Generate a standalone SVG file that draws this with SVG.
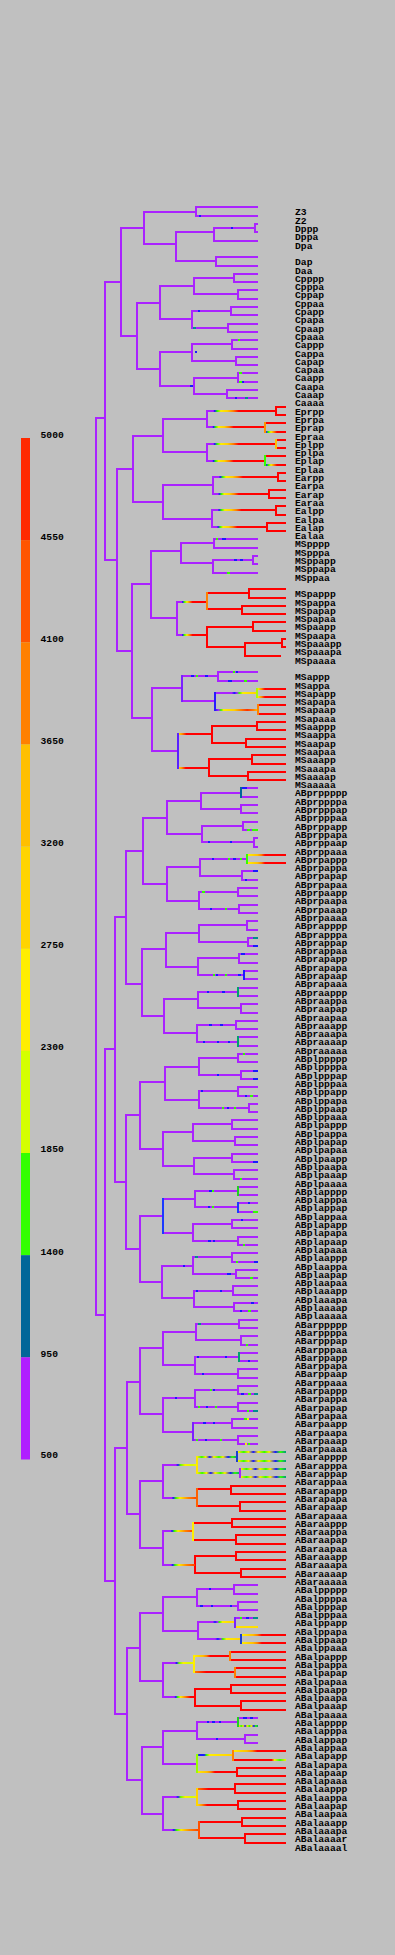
<svg xmlns="http://www.w3.org/2000/svg" width="395" height="1955" viewBox="0 0 395 1955">
<style>
.p{fill:none;stroke:#aa22ff;stroke-width:2}
.r{fill:none;stroke:#ff0000;stroke-width:2}
.y{fill:none;stroke:#ffe600;stroke-width:2}
.v{fill:none;stroke-width:2}
.tb{fill:#1a1aff}.tg{fill:#33ff00}.tt{fill:#008f8f}.ty{fill:#ffee00}
text{font-family:"Liberation Mono","DejaVu Sans Mono",monospace;font-size:9.7px;font-weight:bold;fill:#000}
</style>
<defs>
<linearGradient id="gE"><stop offset="0" stop-color="#aa22ff"/><stop offset=".09" stop-color="#aa22ff"/><stop offset=".11" stop-color="#1a1aff"/><stop offset=".15" stop-color="#33ff00"/><stop offset=".2" stop-color="#ffee00"/><stop offset=".3" stop-color="#ffd000"/><stop offset=".38" stop-color="#ff8000"/><stop offset=".46" stop-color="#ff0000"/><stop offset="1" stop-color="#ff0000"/></linearGradient>
<linearGradient id="gMS"><stop offset="0" stop-color="#aa22ff"/><stop offset=".15" stop-color="#aa22ff"/><stop offset=".19" stop-color="#1a1aff"/><stop offset=".24" stop-color="#33ff00"/><stop offset=".33" stop-color="#ffee00"/><stop offset=".42" stop-color="#ff8000"/><stop offset=".52" stop-color="#ff0000"/><stop offset="1" stop-color="#ff0000"/></linearGradient>
<linearGradient id="gPY"><stop offset="0" stop-color="#aa22ff"/><stop offset=".4" stop-color="#aa22ff"/><stop offset=".46" stop-color="#1a1aff"/><stop offset=".52" stop-color="#aa22ff"/><stop offset=".58" stop-color="#33ff00"/><stop offset=".66" stop-color="#ffee00"/><stop offset="1" stop-color="#ffd000"/></linearGradient>
<linearGradient id="gPY2"><stop offset="0" stop-color="#aa22ff"/><stop offset=".38" stop-color="#aa22ff"/><stop offset=".44" stop-color="#1a1aff"/><stop offset=".52" stop-color="#66ff00"/><stop offset=".65" stop-color="#ffee00"/><stop offset=".85" stop-color="#d5ff00"/><stop offset="1" stop-color="#ffee00"/></linearGradient>
<linearGradient id="gPO"><stop offset="0" stop-color="#aa22ff"/><stop offset=".25" stop-color="#aa22ff"/><stop offset=".3" stop-color="#1a1aff"/><stop offset=".38" stop-color="#33ff00"/><stop offset=".5" stop-color="#ffee00"/><stop offset=".75" stop-color="#ff8000"/><stop offset="1" stop-color="#ff4000"/></linearGradient>
<linearGradient id="gPR"><stop offset="0" stop-color="#aa22ff"/><stop offset=".35" stop-color="#aa22ff"/><stop offset=".4" stop-color="#1a1aff"/><stop offset=".46" stop-color="#33ff00"/><stop offset=".55" stop-color="#ffee00"/><stop offset=".7" stop-color="#ff8000"/><stop offset=".85" stop-color="#ff0000"/><stop offset="1" stop-color="#ff0000"/></linearGradient>
<linearGradient id="gYR"><stop offset="0" stop-color="#ffee00"/><stop offset=".12" stop-color="#ff9000"/><stop offset=".25" stop-color="#ff0000"/><stop offset="1" stop-color="#ff0000"/></linearGradient>
<linearGradient id="gYR2"><stop offset="0" stop-color="#ffee00"/><stop offset=".25" stop-color="#ffc000"/><stop offset=".35" stop-color="#ff8000"/><stop offset=".45" stop-color="#ff0000"/><stop offset="1" stop-color="#ff0000"/></linearGradient>
<linearGradient id="gOR"><stop offset="0" stop-color="#ff8000"/><stop offset=".3" stop-color="#ff0000"/><stop offset="1" stop-color="#ff0000"/></linearGradient>
<linearGradient id="gBR"><stop offset="0" stop-color="#1a1aff"/><stop offset=".12" stop-color="#33ff00"/><stop offset=".25" stop-color="#ffee00"/><stop offset=".4" stop-color="#ff8000"/><stop offset=".55" stop-color="#ff0000"/><stop offset="1" stop-color="#ff0000"/></linearGradient>
<linearGradient id="gBY"><stop offset="0" stop-color="#33ff00"/><stop offset=".06" stop-color="#1a1aff"/><stop offset=".2" stop-color="#1a1aff"/><stop offset=".26" stop-color="#33ff00"/><stop offset=".35" stop-color="#ffee00"/><stop offset="1" stop-color="#ffd000"/></linearGradient>
<linearGradient id="gRY"><stop offset="0" stop-color="#ff0000"/><stop offset=".72" stop-color="#ff0000"/><stop offset=".78" stop-color="#ffee00"/><stop offset=".88" stop-color="#33ff00"/><stop offset="1" stop-color="#ffee00"/></linearGradient>
<linearGradient id="gMix"><stop offset="0" stop-color="#ffee00"/><stop offset=".12" stop-color="#33ff00"/><stop offset=".22" stop-color="#ffee00"/><stop offset=".32" stop-color="#1a1aff"/><stop offset=".42" stop-color="#ffee00"/><stop offset=".55" stop-color="#33ff00"/><stop offset=".65" stop-color="#ffee00"/><stop offset=".78" stop-color="#1a1aff"/><stop offset=".88" stop-color="#33ff00"/><stop offset="1" stop-color="#009980"/></linearGradient>
<linearGradient id="gMSaa"><stop offset="0" stop-color="#1a1aff"/><stop offset=".08" stop-color="#aa22ff"/><stop offset=".14" stop-color="#33ff00"/><stop offset=".2" stop-color="#ffee00"/><stop offset=".45" stop-color="#ffd000"/><stop offset=".6" stop-color="#ff8000"/><stop offset=".75" stop-color="#ff3000"/><stop offset=".9" stop-color="#ff8000"/><stop offset="1" stop-color="#ffd000"/></linearGradient>
</defs>
<rect width="395" height="1955" fill="#c0c0c0"/>
<g id="legend">
<rect x="21" y="438" width="9" height="102.2" fill="#ff2a00"/>
<rect x="21" y="540.1" width="9" height="102.2" fill="#ff5500"/>
<rect x="21" y="642.3" width="9" height="102.2" fill="#ff8000"/>
<rect x="21" y="744.4" width="9" height="102.2" fill="#ffbf00"/>
<rect x="21" y="846.6" width="9" height="102.2" fill="#ffd400"/>
<rect x="21" y="948.7" width="9" height="102.2" fill="#ffee00"/>
<rect x="21" y="1050.9" width="9" height="102.2" fill="#d4ff00"/>
<rect x="21" y="1153" width="9" height="102.2" fill="#33ff00"/>
<rect x="21" y="1255.2" width="9" height="102.2" fill="#006699"/>
<rect x="21" y="1357.3" width="9" height="102.2" fill="#b01eff"/>
<text x="40.5" y="438">5000</text>
<text x="40.5" y="540">4550</text>
<text x="40.5" y="642">4100</text>
<text x="40.5" y="744">3650</text>
<text x="40.5" y="846">3200</text>
<text x="40.5" y="948">2750</text>
<text x="40.5" y="1050">2300</text>
<text x="40.5" y="1152">1850</text>
<text x="40.5" y="1255">1400</text>
<text x="40.5" y="1357">950</text>
<text x="40.5" y="1458">500</text>
</g>
<g id="connectors">
<path class="p" d="M105 418H96V1315H105M121 282H105V560H117M144 228H121V336H137M196 212H144V244H176M258 207H196V216H258M214 232H176V261H216M255 228H214V241H258M258 224H255V232H258M258 257H216V266H258M160 303H137V369H160M194 286H160V319H192M234 278H194V294H238M258 274H234V282H258M258 290H238V299H258M231 311H192V328H228M258 307H231V315H258M258 324H228V332H258M192 352H160V386H194M232 344H192V361H236M258 340H232V349H258M258 357H236V365H258M238 378H194V394H227M258 373H238V382H258M258 390H227V398H258
M133 469H117V651H132M163 436H133V502H163M207 419H163V452H207M213 485H163V519H212M207 410V428M207 443V462M213 476V495M212 509V528
M151 584H132V718H152M181 551H151V618H177M214 543H181V563H213M258 539H214V548H258M253 560H213V573H258M258 556H253V564H258M177 601V636M182 688H152V751H178M218 676H182V701H215M258 672H218V681H258
M115 1049H105V1581H115M126 917H115V1182H126M143 851H126V984H142M167 818H143V884H167M201 801H167V834H202M241 793H201V809H241M258 788H241V797H258M258 805H241V813H258M243 826H202V842H254M258 822H243V830H258M258 838H254V847H258M200 867H167V901H199M247 859H200V876H242M258 871H242V880H258M238 892H199V909H239M258 888H238V896H258M258 905H239V913H258
M166 949H142V1016H164M199 933H166V967H198M247 925H199V942H248M258 921H247V930H258M258 938H248V946H258M239 958H198V975H244M258 954H239V963H258M258 971H244V979H258M198 999H164V1033H197M238 992H198V1008H241M258 988H238V996H258M258 1004H241V1013H258M236 1025H197V1042H238M258 1021H236V1029H258M258 1037H238V1046H258
M140 1115H126V1249H140M165 1082H140V1149H163M199 1067H165V1100H199M238 1058H199V1075H241M258 1054H238V1062H258M258 1071H241V1079H258M238 1091H199V1108H249M258 1087H238V1096H258M258 1104H249V1112H258M193 1132H163V1166H194M232 1124H193V1141H235M258 1120H232V1129H258M258 1137H235V1145H258M232 1158H194V1174H234M258 1154H232V1162H258M258 1170H234V1179H258
M163 1216H140V1282H162M195 1199H163V1233H193M238 1191H195V1207H238M258 1187H238V1195H258M258 1203H238V1212H258M232 1224H193V1241H238M258 1220H232V1228H258M258 1237H238V1245H258M193 1266H162V1298H194M232 1257H193V1274H236M258 1253H232V1262H258M258 1270H236V1278H258M233 1291H194V1307H234M258 1286H233V1295H258M258 1303H234V1311H258
M127 1448H115V1714H127M140 1382H127V1514H140M163 1348H140V1414H163M196 1332H163V1365H195M239 1324H196V1340H241M258 1320H239V1328H258M258 1336H241V1345H258M239 1357H195V1374H238M258 1353H239V1361H258M258 1369H238V1378H258M195 1398H163V1432H193M238 1390H195V1407H238M258 1386H238V1394H258M258 1403H238V1411H258M232 1423H193V1440H238M258 1419H232V1428H258M258 1436H238V1444H258M163 1481H140V1548H163M163 1464V1499M163 1530V1566
M140 1648H127V1780H142M163 1613H140V1681H163M197 1597H163V1631H198M234 1589H197V1606H238M258 1585H234V1594H258M258 1602H238V1610H258M198 1621V1640M258 1618H235V1627H258M163 1662V1698M163 1747H142V1814H163M197 1731H163V1764H197M238 1722H197V1739H245M258 1718H238V1726H258M258 1735H245V1743H258M163 1796V1831"/>
<path class="r" d="M286 407H276V415H286M286 423H265V432H286M286 440H276V448H286M286 456H265V465H286M286 473H278V481H286M286 490H269V498H286M286 506H276V515H286M286 523H267V531H286
M249 593H207V609H242M286 589H249V598H286M286 606H242V614H286M253 627H207V647H245M286 622H253V631H286M282 643H245V656H281M286 639H282V647H286M286 689H257V697H286M286 705H258V714H286M257 726H212V743H246M286 722H257V730H286M286 739H246V747H286M252 759H209V776H248M286 755H252V764H286M286 772H248V780H286
M286 855H247V863H286M231 1489H197V1506H240M286 1486H231V1494H286M286 1502H240V1511H286M232 1523H193V1540H236M286 1519H232V1527H286M286 1535H236V1544H286M236 1556H195V1573H241M286 1552H236V1560H286M286 1569H241V1577H286
M286 1635H241V1643H286M230 1656H194V1672H235M286 1652H230V1660H286M286 1668H235V1677H286M231 1689H195V1706H241M286 1685H231V1693H286M286 1701H241V1710H286M233 1755H197V1772H237M286 1751H233V1760H286M286 1768H237V1776H286M235 1789H197V1805H238M286 1784H235V1793H286M286 1801H238V1809H286M242 1822H199V1838H245M286 1818H242V1826H286M286 1834H245V1843H286"/>
<path class="y" d="M237 1457H197V1473H240M286 1452H237V1461H286M286 1469H240V1477H286"/>
<rect x="207" y="410" width="69" height="2" fill="url(#gE)"/>
<rect x="207" y="426" width="58" height="2" fill="url(#gE)"/>
<rect x="207" y="443" width="69" height="2" fill="url(#gE)"/>
<rect x="207" y="460" width="58" height="2" fill="url(#gE)"/>
<rect x="213" y="476" width="65" height="2" fill="url(#gE)"/>
<rect x="213" y="493" width="56" height="2" fill="url(#gE)"/>
<rect x="212" y="509" width="64" height="2" fill="url(#gE)"/>
<rect x="212" y="526" width="55" height="2" fill="url(#gE)"/>
<rect x="266" y="431" width="20" height="2" fill="url(#gBR)"/>
<rect x="266" y="464" width="20" height="2" fill="url(#gBR)"/>
<rect x="177" y="601" width="30" height="2" fill="url(#gMS)"/>
<rect x="177" y="634" width="30" height="2" fill="url(#gMS)"/>
<rect x="215" y="692" width="42" height="2" fill="url(#gPY)"/>
<rect x="215" y="709" width="43" height="2" fill="url(#gMSaa)"/>
<rect x="258" y="688" width="28" height="2" fill="url(#gYR)"/>
<rect x="258" y="696" width="28" height="2" fill="url(#gYR)"/>
<rect x="178" y="733" width="34" height="2" fill="url(#gYR)"/>
<rect x="178" y="767" width="31" height="2" fill="url(#gYR)"/>
<rect x="248" y="854" width="38" height="2" fill="url(#gYR2)"/>
<rect x="248" y="862" width="38" height="2" fill="url(#gYR2)"/>
<rect x="163" y="1464" width="34" height="2" fill="url(#gPY2)"/>
<rect x="197" y="1456" width="40" height="2" fill="url(#gMix)"/>
<rect x="197" y="1472" width="43" height="2" fill="url(#gMix)"/>
<rect x="238" y="1451" width="48" height="2" fill="url(#gMix)"/>
<rect x="238" y="1460" width="48" height="2" fill="url(#gMix)"/>
<rect x="241" y="1468" width="45" height="2" fill="url(#gMix)"/>
<rect x="241" y="1476" width="45" height="2" fill="url(#gMix)"/>
<rect x="163" y="1497" width="34" height="2" fill="url(#gPO)"/>
<rect x="163" y="1530" width="30" height="2" fill="url(#gPO)"/>
<rect x="163" y="1564" width="32" height="2" fill="url(#gPO)"/>
<rect x="198" y="1621" width="37" height="2" fill="url(#gPY)"/>
<rect x="198" y="1638" width="43" height="2" fill="url(#gPY)"/>
<rect x="242" y="1634" width="44" height="2" fill="url(#gYR2)"/>
<rect x="242" y="1642" width="44" height="2" fill="url(#gYR2)"/>
<rect x="236" y="1626" width="22" height="2" fill="#ffe000"/>
<rect x="163" y="1662" width="31" height="2" fill="url(#gPY2)"/>
<rect x="194" y="1655" width="36" height="2" fill="url(#gYR2)"/>
<rect x="194" y="1671" width="41" height="2" fill="url(#gOR)"/>
<rect x="163" y="1696" width="32" height="2" fill="url(#gPR)"/>
<rect x="239" y="1725" width="19" height="2" fill="url(#gMix)"/>
<rect x="197" y="1754" width="36" height="2" fill="url(#gBY)"/>
<rect x="197" y="1771" width="40" height="2" fill="url(#gYR2)"/>
<rect x="234" y="1750" width="52" height="2" fill="url(#gYR2)"/>
<rect x="234" y="1759" width="52" height="2" fill="url(#gRY)"/>
<rect x="163" y="1796" width="34" height="2" fill="url(#gPY2)"/>
<rect x="197" y="1788" width="38" height="2" fill="url(#gOR)"/>
<rect x="197" y="1804" width="41" height="2" fill="url(#gYR)"/>
<rect x="163" y="1829" width="36" height="2" fill="url(#gPO)"/>
<path class="v" stroke="#ff9000" d="M265 422V433"/>
<path class="v" stroke="#ffbf00" d="M276 439V449"/>
<path class="v" stroke="#33ff00" d="M265 455V466"/>
<path class="v" stroke="#ff8000" d="M207 592V610"/>
<path class="v" stroke="#7a20ff" d="M182 675V702"/>
<path class="v" stroke="#2a1aff" d="M215 692V711"/>
<path class="v" stroke="#aaff00" d="M257 688V698"/>
<path class="v" stroke="#ff8000" d="M258 704V715"/>
<path class="v" stroke="#5a20ff" d="M178 733V769"/>
<path class="v" stroke="#006699" d="M241 787V798"/>
<path class="v" stroke="#33ff00" d="M247 854V864"/>
<path class="v" stroke="#1a1aff" d="M244 970V980"/>
<path class="v" stroke="#00a070" d="M238 987V997M238 1036V1047M239 1352V1362"/>
<path class="v" stroke="#20d020" d="M238 1186V1196M238 1717V1727"/>
<path class="v" stroke="#1a3aff" d="M238 1202V1213M163 1198V1234"/>
<path class="v" stroke="#7a20ff" d="M193 1422V1441M235 1617V1628"/>
<path class="v" stroke="#1a40d0" d="M237 1451V1462M241 1634V1644"/>
<path class="v" stroke="#aa22ff" d="M240 1468V1478"/>
<path class="v" stroke="#ff6000" d="M197 1488V1507"/>
<path class="v" stroke="#ffee00" d="M193 1522V1541M194 1655V1673"/>
<path class="v" stroke="#ff8000" d="M230 1651V1661M235 1667V1678M233 1750V1761"/>
<path class="v" stroke="#99ff00" d="M197 1754V1773"/>
<path class="v" stroke="#ffd500" d="M197 1788V1806"/>
<path class="v" stroke="#ff5000" d="M199 1821V1839"/>
<rect class="tb" x="199" y="215" width="2" height="2"/>
<rect class="tb" x="231" y="227" width="2" height="2"/>
<rect class="tb" x="198" y="310" width="2" height="2"/>
<rect class="tt" x="193" y="327" width="3" height="2"/>
<rect class="tb" x="235" y="397" width="2" height="2"/>
<rect class="tt" x="245" y="397" width="3" height="2"/>
<rect class="tb" x="195" y="351" width="2" height="2"/>
<rect class="tg" x="238" y="339" width="2" height="2"/>
<rect class="tg" x="239" y="372" width="3" height="2"/>
<rect class="tg" x="239" y="381" width="3" height="2"/>
<rect class="tb" x="242" y="381" width="2" height="2"/>
<rect class="tb" x="190" y="385" width="3" height="2"/>
<rect class="tg" x="216" y="538" width="2" height="2"/>
<rect class="tb" x="222" y="538" width="4" height="2"/>
<rect class="tb" x="234" y="559" width="3" height="2"/>
<rect class="tb" x="240" y="559" width="3" height="2"/>
<rect class="tg" x="227" y="572" width="3" height="2"/>
<rect class="tb" x="191" y="675" width="3" height="2"/>
<rect class="tg" x="196" y="675" width="2" height="2"/>
<rect class="tb" x="205" y="675" width="3" height="2"/>
<rect class="tg" x="233" y="671" width="2" height="2"/>
<rect class="tb" x="236" y="671" width="2" height="2"/>
<rect class="tb" x="228" y="680" width="4" height="2"/>
<rect class="tg" x="244" y="680" width="3" height="2"/>
<rect class="tb" x="242" y="787" width="5" height="2"/>
<rect class="tg" x="247" y="829" width="3" height="2"/>
<rect class="tg" x="252" y="829" width="6" height="2"/>
<rect class="tb" x="208" y="841" width="2" height="2"/>
<rect class="tb" x="230" y="841" width="2" height="2"/>
<rect class="tb" x="212" y="858" width="2" height="2"/>
<rect class="tg" x="228" y="858" width="2" height="2"/>
<rect class="tb" x="233" y="858" width="3" height="2"/>
<rect class="tg" x="240" y="858" width="2" height="2"/>
<rect class="tb" x="253" y="870" width="5" height="2"/>
<rect class="tb" x="245" y="879" width="2" height="2"/>
<rect class="tg" x="202" y="891" width="3" height="2"/>
<rect class="tb" x="210" y="908" width="2" height="2"/>
<rect class="tg" x="225" y="908" width="2" height="2"/>
<rect class="tt" x="253" y="937" width="5" height="2"/>
<rect class="tb" x="253" y="945" width="5" height="2"/>
<rect class="tb" x="241" y="953" width="4" height="2"/>
<rect class="tg" x="213" y="974" width="2" height="2"/>
<rect class="tb" x="216" y="974" width="2" height="2"/>
<rect class="tg" x="225" y="974" width="2" height="2"/>
<rect class="tb" x="238" y="974" width="3" height="2"/>
<rect class="tb" x="207" y="991" width="2" height="2"/>
<rect class="tb" x="222" y="991" width="3" height="2"/>
<rect class="tb" x="209" y="1024" width="3" height="2"/>
<rect class="tb" x="220" y="1024" width="3" height="2"/>
<rect class="tb" x="203" y="1041" width="2" height="2"/>
<rect class="tb" x="217" y="1041" width="2" height="2"/>
<rect class="tb" x="228" y="1041" width="2" height="2"/>
<rect class="tg" x="243" y="1053" width="2" height="2"/>
<rect class="tb" x="217" y="1074" width="2" height="2"/>
<rect class="tb" x="253" y="1070" width="5" height="2"/>
<rect class="tb" x="253" y="1078" width="5" height="2"/>
<rect class="tb" x="201" y="1090" width="2" height="2"/>
<rect class="tb" x="245" y="1095" width="2" height="2"/>
<rect class="tg" x="250" y="1095" width="3" height="2"/>
<rect class="tg" x="222" y="1107" width="2" height="2"/>
<rect class="tb" x="227" y="1107" width="2" height="2"/>
<rect class="tg" x="234" y="1107" width="2" height="2"/>
<rect class="tb" x="253" y="1161" width="5" height="2"/>
<rect class="tg" x="240" y="1178" width="2" height="2"/>
<rect class="tb" x="209" y="1190" width="3" height="2"/>
<rect class="tg" x="212" y="1190" width="2" height="2"/>
<rect class="tb" x="208" y="1206" width="2" height="2"/>
<rect class="tg" x="212" y="1206" width="2" height="2"/>
<rect class="tb" x="248" y="1202" width="2" height="2"/>
<rect class="tg" x="253" y="1211" width="5" height="2"/>
<rect class="tb" x="241" y="1219" width="2" height="2"/>
<rect class="tb" x="208" y="1240" width="3" height="2"/>
<rect class="tb" x="213" y="1240" width="2" height="2"/>
<rect class="tg" x="243" y="1244" width="2" height="2"/>
<rect class="tb" x="183" y="1265" width="2" height="2"/>
<rect class="tt" x="195" y="1256" width="3" height="2"/>
<rect class="tg" x="236" y="1261" width="2" height="2"/>
<rect class="tb" x="254" y="1261" width="4" height="2"/>
<rect class="tb" x="227" y="1273" width="4" height="2"/>
<rect class="tg" x="250" y="1277" width="3" height="2"/>
<rect class="tb" x="196" y="1290" width="2" height="2"/>
<rect class="tb" x="220" y="1290" width="2" height="2"/>
<rect class="tb" x="251" y="1302" width="3" height="2"/>
<rect class="tb" x="240" y="1310" width="2" height="2"/>
<rect class="tg" x="248" y="1310" width="3" height="2"/>
<rect class="tt" x="198" y="1323" width="3" height="2"/>
<rect class="tg" x="246" y="1344" width="2" height="2"/>
<rect class="tb" x="197" y="1356" width="2" height="2"/>
<rect class="tb" x="225" y="1356" width="2" height="2"/>
<rect class="tb" x="248" y="1360" width="2" height="2"/>
<rect class="tb" x="202" y="1373" width="2" height="2"/>
<rect class="tb" x="175" y="1397" width="2" height="2"/>
<rect class="tg" x="210" y="1389" width="2" height="2"/>
<rect class="tb" x="213" y="1389" width="2" height="2"/>
<rect class="tb" x="241" y="1393" width="3" height="2"/>
<rect class="tg" x="248" y="1393" width="3" height="2"/>
<rect class="tt" x="254" y="1393" width="4" height="2"/>
<rect class="tg" x="198" y="1406" width="2" height="2"/>
<rect class="tb" x="206" y="1406" width="2" height="2"/>
<rect class="tg" x="215" y="1406" width="2" height="2"/>
<rect class="tg" x="247" y="1410" width="2" height="2"/>
<rect class="tt" x="253" y="1410" width="5" height="2"/>
<rect class="tb" x="203" y="1422" width="3" height="2"/>
<rect class="tb" x="213" y="1422" width="2" height="2"/>
<rect class="tg" x="244" y="1418" width="3" height="2"/>
<rect class="ty" x="247" y="1418" width="2" height="2"/>
<rect class="tg" x="196" y="1439" width="2" height="2"/>
<rect class="tb" x="205" y="1439" width="2" height="2"/>
<rect class="tg" x="220" y="1439" width="2" height="2"/>
<rect class="ty" x="245" y="1443" width="2" height="2"/>
<rect class="tg" x="248" y="1443" width="2" height="2"/>
<rect class="tb" x="209" y="1588" width="2" height="2"/>
<rect class="tb" x="200" y="1605" width="3" height="2"/>
<rect class="tb" x="211" y="1605" width="2" height="2"/>
<rect class="tb" x="230" y="1605" width="2" height="2"/>
<rect class="tg" x="240" y="1617" width="2" height="2"/>
<rect class="tb" x="246" y="1617" width="3" height="2"/>
<rect class="tt" x="253" y="1617" width="5" height="2"/>
<rect class="tb" x="207" y="1721" width="2" height="2"/>
<rect class="tb" x="212" y="1721" width="3" height="2"/>
<rect class="tb" x="219" y="1721" width="2" height="2"/>
<rect class="tb" x="243" y="1717" width="4" height="2"/>
<rect class="tb" x="250" y="1717" width="3" height="2"/>
<rect class="tb" x="216" y="1738" width="2" height="2"/>
</g>
<g id="labels">
<g id="Z3"><text x="295" y="215">Z3</text></g>
<g id="Z2"><text x="295" y="224">Z2</text></g>
<g id="Dppp"><text x="295" y="232">Dppp</text></g>
<g id="Dppa"><text x="295" y="240">Dppa</text></g>
<g id="Dpa"><text x="295" y="249">Dpa</text></g>
<g id="Dap"><text x="295" y="265">Dap</text></g>
<g id="Daa"><text x="295" y="274">Daa</text></g>
<g id="Cpppp"><text x="295" y="282">Cpppp</text></g>
<g id="Cpppa"><text x="295" y="290">Cpppa</text></g>
<g id="Cppap"><text x="295" y="298">Cppap</text></g>
<g id="Cppaa"><text x="295" y="307">Cppaa</text></g>
<g id="Cpapp"><text x="295" y="315">Cpapp</text></g>
<g id="Cpapa"><text x="295" y="323">Cpapa</text></g>
<g id="Cpaap"><text x="295" y="332">Cpaap</text></g>
<g id="Cpaaa"><text x="295" y="340">Cpaaa</text></g>
<g id="Cappp"><text x="295" y="348">Cappp</text></g>
<g id="Cappa"><text x="295" y="357">Cappa</text></g>
<g id="Capap"><text x="295" y="365">Capap</text></g>
<g id="Capaa"><text x="295" y="373">Capaa</text></g>
<g id="Caapp"><text x="295" y="381">Caapp</text></g>
<g id="Caapa"><text x="295" y="390">Caapa</text></g>
<g id="Caaap"><text x="295" y="398">Caaap</text></g>
<g id="Caaaa"><text x="295" y="406">Caaaa</text></g>
<g id="Eprpp"><text x="295" y="415">Eprpp</text></g>
<g id="Eprpa"><text x="295" y="423">Eprpa</text></g>
<g id="Eprap"><text x="295" y="431">Eprap</text></g>
<g id="Epraa"><text x="295" y="440">Epraa</text></g>
<g id="Eplpp"><text x="295" y="448">Eplpp</text></g>
<g id="Eplpa"><text x="295" y="456">Eplpa</text></g>
<g id="Eplap"><text x="295" y="464">Eplap</text></g>
<g id="Eplaa"><text x="295" y="473">Eplaa</text></g>
<g id="Earpp"><text x="295" y="481">Earpp</text></g>
<g id="Earpa"><text x="295" y="489">Earpa</text></g>
<g id="Earap"><text x="295" y="498">Earap</text></g>
<g id="Earaa"><text x="295" y="506">Earaa</text></g>
<g id="Ealpp"><text x="295" y="514">Ealpp</text></g>
<g id="Ealpa"><text x="295" y="523">Ealpa</text></g>
<g id="Ealap"><text x="295" y="531">Ealap</text></g>
<g id="Ealaa"><text x="295" y="539">Ealaa</text></g>
<g id="MSpppp"><text x="295" y="547">MSpppp</text></g>
<g id="MSpppa"><text x="295" y="556">MSpppa</text></g>
<g id="MSppapp"><text x="295" y="564">MSppapp</text></g>
<g id="MSppapa"><text x="295" y="572">MSppapa</text></g>
<g id="MSppaa"><text x="295" y="581">MSppaa</text></g>
<g id="MSpappp"><text x="295" y="597">MSpappp</text></g>
<g id="MSpappa"><text x="295" y="606">MSpappa</text></g>
<g id="MSpapap"><text x="295" y="614">MSpapap</text></g>
<g id="MSpapaa"><text x="295" y="622">MSpapaa</text></g>
<g id="MSpaapp"><text x="295" y="630">MSpaapp</text></g>
<g id="MSpaapa"><text x="295" y="639">MSpaapa</text></g>
<g id="MSpaaapp"><text x="295" y="647">MSpaaapp</text></g>
<g id="MSpaaapa"><text x="295" y="655">MSpaaapa</text></g>
<g id="MSpaaaa"><text x="295" y="664">MSpaaaa</text></g>
<g id="MSappp"><text x="295" y="680">MSappp</text></g>
<g id="MSappa"><text x="295" y="689">MSappa</text></g>
<g id="MSapapp"><text x="295" y="697">MSapapp</text></g>
<g id="MSapapa"><text x="295" y="705">MSapapa</text></g>
<g id="MSapaap"><text x="295" y="713">MSapaap</text></g>
<g id="MSapaaa"><text x="295" y="722">MSapaaa</text></g>
<g id="MSaappp"><text x="295" y="730">MSaappp</text></g>
<g id="MSaappa"><text x="295" y="738">MSaappa</text></g>
<g id="MSaapap"><text x="295" y="747">MSaapap</text></g>
<g id="MSaapaa"><text x="295" y="755">MSaapaa</text></g>
<g id="MSaaapp"><text x="295" y="763">MSaaapp</text></g>
<g id="MSaaapa"><text x="295" y="772">MSaaapa</text></g>
<g id="MSaaaap"><text x="295" y="780">MSaaaap</text></g>
<g id="MSaaaaa"><text x="295" y="788">MSaaaaa</text></g>
<g id="ABprppppp"><text x="295" y="796">ABprppppp</text></g>
<g id="ABprppppa"><text x="295" y="805">ABprppppa</text></g>
<g id="ABprpppap"><text x="295" y="813">ABprpppap</text></g>
<g id="ABprpppaa"><text x="295" y="821">ABprpppaa</text></g>
<g id="ABprppapp"><text x="295" y="830">ABprppapp</text></g>
<g id="ABprppapa"><text x="295" y="838">ABprppapa</text></g>
<g id="ABprppaap"><text x="295" y="846">ABprppaap</text></g>
<g id="ABprppaaa"><text x="295" y="855">ABprppaaa</text></g>
<g id="ABprpappp"><text x="295" y="863">ABprpappp</text></g>
<g id="ABprpappa"><text x="295" y="871">ABprpappa</text></g>
<g id="ABprpapap"><text x="295" y="879">ABprpapap</text></g>
<g id="ABprpapaa"><text x="295" y="888">ABprpapaa</text></g>
<g id="ABprpaapp"><text x="295" y="896">ABprpaapp</text></g>
<g id="ABprpaapa"><text x="295" y="904">ABprpaapa</text></g>
<g id="ABprpaaap"><text x="295" y="913">ABprpaaap</text></g>
<g id="ABprpaaaa"><text x="295" y="921">ABprpaaaa</text></g>
<g id="ABprapppp"><text x="295" y="929">ABprapppp</text></g>
<g id="ABprapppa"><text x="295" y="938">ABprapppa</text></g>
<g id="ABprappap"><text x="295" y="946">ABprappap</text></g>
<g id="ABprappaa"><text x="295" y="954">ABprappaa</text></g>
<g id="ABprapapp"><text x="295" y="962">ABprapapp</text></g>
<g id="ABprapapa"><text x="295" y="971">ABprapapa</text></g>
<g id="ABprapaap"><text x="295" y="979">ABprapaap</text></g>
<g id="ABprapaaa"><text x="295" y="987">ABprapaaa</text></g>
<g id="ABpraappp"><text x="295" y="996">ABpraappp</text></g>
<g id="ABpraappa"><text x="295" y="1004">ABpraappa</text></g>
<g id="ABpraapap"><text x="295" y="1012">ABpraapap</text></g>
<g id="ABpraapaa"><text x="295" y="1021">ABpraapaa</text></g>
<g id="ABpraaapp"><text x="295" y="1029">ABpraaapp</text></g>
<g id="ABpraaapa"><text x="295" y="1037">ABpraaapa</text></g>
<g id="ABpraaaap"><text x="295" y="1045">ABpraaaap</text></g>
<g id="ABpraaaaa"><text x="295" y="1054">ABpraaaaa</text></g>
<g id="ABplppppp"><text x="295" y="1062">ABplppppp</text></g>
<g id="ABplppppa"><text x="295" y="1070">ABplppppa</text></g>
<g id="ABplpppap"><text x="295" y="1079">ABplpppap</text></g>
<g id="ABplpppaa"><text x="295" y="1087">ABplpppaa</text></g>
<g id="ABplppapp"><text x="295" y="1095">ABplppapp</text></g>
<g id="ABplppapa"><text x="295" y="1104">ABplppapa</text></g>
<g id="ABplppaap"><text x="295" y="1112">ABplppaap</text></g>
<g id="ABplppaaa"><text x="295" y="1120">ABplppaaa</text></g>
<g id="ABplpappp"><text x="295" y="1128">ABplpappp</text></g>
<g id="ABplpappa"><text x="295" y="1137">ABplpappa</text></g>
<g id="ABplpapap"><text x="295" y="1145">ABplpapap</text></g>
<g id="ABplpapaa"><text x="295" y="1153">ABplpapaa</text></g>
<g id="ABplpaapp"><text x="295" y="1162">ABplpaapp</text></g>
<g id="ABplpaapa"><text x="295" y="1170">ABplpaapa</text></g>
<g id="ABplpaaap"><text x="295" y="1178">ABplpaaap</text></g>
<g id="ABplpaaaa"><text x="295" y="1187">ABplpaaaa</text></g>
<g id="ABplapppp"><text x="295" y="1195">ABplapppp</text></g>
<g id="ABplapppa"><text x="295" y="1203">ABplapppa</text></g>
<g id="ABplappap"><text x="295" y="1211">ABplappap</text></g>
<g id="ABplappaa"><text x="295" y="1220">ABplappaa</text></g>
<g id="ABplapapp"><text x="295" y="1228">ABplapapp</text></g>
<g id="ABplapapa"><text x="295" y="1236">ABplapapa</text></g>
<g id="ABplapaap"><text x="295" y="1245">ABplapaap</text></g>
<g id="ABplapaaa"><text x="295" y="1253">ABplapaaa</text></g>
<g id="ABplaappp"><text x="295" y="1261">ABplaappp</text></g>
<g id="ABplaappa"><text x="295" y="1270">ABplaappa</text></g>
<g id="ABplaapap"><text x="295" y="1278">ABplaapap</text></g>
<g id="ABplaapaa"><text x="295" y="1286">ABplaapaa</text></g>
<g id="ABplaaapp"><text x="295" y="1294">ABplaaapp</text></g>
<g id="ABplaaapa"><text x="295" y="1303">ABplaaapa</text></g>
<g id="ABplaaaap"><text x="295" y="1311">ABplaaaap</text></g>
<g id="ABplaaaaa"><text x="295" y="1319">ABplaaaaa</text></g>
<g id="ABarppppp"><text x="295" y="1328">ABarppppp</text></g>
<g id="ABarppppa"><text x="295" y="1336">ABarppppa</text></g>
<g id="ABarpppap"><text x="295" y="1344">ABarpppap</text></g>
<g id="ABarpppaa"><text x="295" y="1353">ABarpppaa</text></g>
<g id="ABarppapp"><text x="295" y="1361">ABarppapp</text></g>
<g id="ABarppapa"><text x="295" y="1369">ABarppapa</text></g>
<g id="ABarppaap"><text x="295" y="1377">ABarppaap</text></g>
<g id="ABarppaaa"><text x="295" y="1386">ABarppaaa</text></g>
<g id="ABarpappp"><text x="295" y="1394">ABarpappp</text></g>
<g id="ABarpappa"><text x="295" y="1402">ABarpappa</text></g>
<g id="ABarpapap"><text x="295" y="1411">ABarpapap</text></g>
<g id="ABarpapaa"><text x="295" y="1419">ABarpapaa</text></g>
<g id="ABarpaapp"><text x="295" y="1427">ABarpaapp</text></g>
<g id="ABarpaapa"><text x="295" y="1436">ABarpaapa</text></g>
<g id="ABarpaaap"><text x="295" y="1444">ABarpaaap</text></g>
<g id="ABarpaaaa"><text x="295" y="1452">ABarpaaaa</text></g>
<g id="ABarapppp"><text x="295" y="1460">ABarapppp</text></g>
<g id="ABarapppa"><text x="295" y="1469">ABarapppa</text></g>
<g id="ABarappap"><text x="295" y="1477">ABarappap</text></g>
<g id="ABarappaa"><text x="295" y="1485">ABarappaa</text></g>
<g id="ABarapapp"><text x="295" y="1494">ABarapapp</text></g>
<g id="ABarapapa"><text x="295" y="1502">ABarapapa</text></g>
<g id="ABarapaap"><text x="295" y="1510">ABarapaap</text></g>
<g id="ABarapaaa"><text x="295" y="1519">ABarapaaa</text></g>
<g id="ABaraappp"><text x="295" y="1527">ABaraappp</text></g>
<g id="ABaraappa"><text x="295" y="1535">ABaraappa</text></g>
<g id="ABaraapap"><text x="295" y="1543">ABaraapap</text></g>
<g id="ABaraapaa"><text x="295" y="1552">ABaraapaa</text></g>
<g id="ABaraaapp"><text x="295" y="1560">ABaraaapp</text></g>
<g id="ABaraaapa"><text x="295" y="1568">ABaraaapa</text></g>
<g id="ABaraaaap"><text x="295" y="1577">ABaraaaap</text></g>
<g id="ABaraaaaa"><text x="295" y="1585">ABaraaaaa</text></g>
<g id="ABalppppp"><text x="295" y="1593">ABalppppp</text></g>
<g id="ABalppppa"><text x="295" y="1602">ABalppppa</text></g>
<g id="ABalpppap"><text x="295" y="1610">ABalpppap</text></g>
<g id="ABalpppaa"><text x="295" y="1618">ABalpppaa</text></g>
<g id="ABalppapp"><text x="295" y="1626">ABalppapp</text></g>
<g id="ABalppapa"><text x="295" y="1635">ABalppapa</text></g>
<g id="ABalppaap"><text x="295" y="1643">ABalppaap</text></g>
<g id="ABalppaaa"><text x="295" y="1651">ABalppaaa</text></g>
<g id="ABalpappp"><text x="295" y="1660">ABalpappp</text></g>
<g id="ABalpappa"><text x="295" y="1668">ABalpappa</text></g>
<g id="ABalpapap"><text x="295" y="1676">ABalpapap</text></g>
<g id="ABalpapaa"><text x="295" y="1685">ABalpapaa</text></g>
<g id="ABalpaapp"><text x="295" y="1693">ABalpaapp</text></g>
<g id="ABalpaapa"><text x="295" y="1701">ABalpaapa</text></g>
<g id="ABalpaaap"><text x="295" y="1709">ABalpaaap</text></g>
<g id="ABalpaaaa"><text x="295" y="1718">ABalpaaaa</text></g>
<g id="ABalapppp"><text x="295" y="1726">ABalapppp</text></g>
<g id="ABalapppa"><text x="295" y="1734">ABalapppa</text></g>
<g id="ABalappap"><text x="295" y="1743">ABalappap</text></g>
<g id="ABalappaa"><text x="295" y="1751">ABalappaa</text></g>
<g id="ABalapapp"><text x="295" y="1759">ABalapapp</text></g>
<g id="ABalapapa"><text x="295" y="1768">ABalapapa</text></g>
<g id="ABalapaap"><text x="295" y="1776">ABalapaap</text></g>
<g id="ABalapaaa"><text x="295" y="1784">ABalapaaa</text></g>
<g id="ABalaappp"><text x="295" y="1792">ABalaappp</text></g>
<g id="ABalaappa"><text x="295" y="1801">ABalaappa</text></g>
<g id="ABalaapap"><text x="295" y="1809">ABalaapap</text></g>
<g id="ABalaapaa"><text x="295" y="1817">ABalaapaa</text></g>
<g id="ABalaaapp"><text x="295" y="1826">ABalaaapp</text></g>
<g id="ABalaaapa"><text x="295" y="1834">ABalaaapa</text></g>
<g id="ABalaaaar"><text x="295" y="1842">ABalaaaar</text></g>
<g id="ABalaaaal"><text x="295" y="1851">ABalaaaal</text></g>
</g>
</svg>
